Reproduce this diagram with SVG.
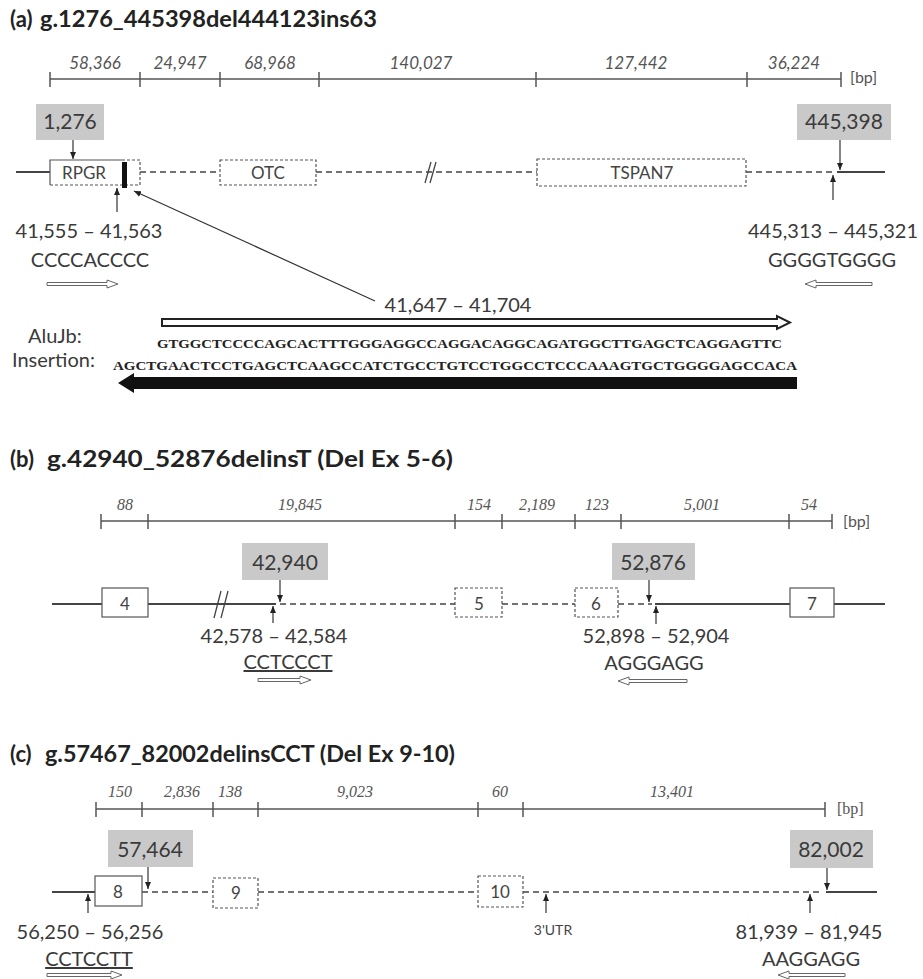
<svg xmlns="http://www.w3.org/2000/svg" width="923" height="979" viewBox="0 0 923 979">
<style>
text{font-family:Lato,"Open Sans","Liberation Sans",sans-serif;fill:#3a3a3a}
.title{font-weight:bold;font-size:22px;fill:#222}
.lbl{font-size:20px;text-anchor:middle}
.gl{font-size:21px;text-anchor:middle}
.seqlbl{font-size:20px;text-anchor:middle}
.scl{font-size:17px;font-style:italic;fill:#555;text-anchor:middle}
.scls{font-family:"Liberation Serif",serif;font-size:16px;font-style:italic;fill:#555;text-anchor:middle}
.bp{font-size:16px;fill:#555}
.bps{font-family:"Liberation Serif",serif;font-size:16px;fill:#555}
.box{font-size:17px;text-anchor:middle;fill:#444}
.seq{font-family:"Liberation Serif",serif;font-weight:bold;font-size:13px;fill:#222}
.gray{fill:#c9c9c9}
.bar{stroke:#555;stroke-width:1.5;fill:none}
.solid{stroke:#444;stroke-width:2;fill:none}
.dash{stroke:#444;stroke-width:1.6;stroke-dasharray:6 4;fill:none}
.sbox{stroke:#555;stroke-width:1.2;fill:#fff}
.dbox{stroke:#555;stroke-width:1.2;stroke-dasharray:3 2;fill:#fff}
.ptr{stroke:#333;stroke-width:1.2;fill:none;marker-end:url(#ah)}
.hol{fill:#fff;stroke:#666;stroke-width:1}
</style>
<defs>
<marker id="ah" markerWidth="8" markerHeight="8" refX="7" refY="4" orient="auto" markerUnits="userSpaceOnUse">
<path d="M0,1 L7,4 L0,7 Z" fill="#222"/>
</marker>
</defs>

<!-- ===== Panel (a) ===== -->
<g id="title-a"><text class="title" x="10" y="27">(a)</text><text class="title" x="40" y="27" textLength="337" lengthAdjust="spacingAndGlyphs">g.1276_445398del444123ins63</text></g>
<g id="scale-a">
<path class="bar" d="M50,79 H841 M50,72 V87 M140,72 V87 M220,72 V87 M319,72 V87 M536,72 V87 M747,72 V87 M841,72 V87"/>
<text class="scl" x="95" y="69">58,366</text>
<text class="scl" x="180" y="69">24,947</text>
<text class="scl" x="270" y="69">68,968</text>
<text class="scl" x="421" y="69">140,027</text>
<text class="scl" x="636" y="69">127,442</text>
<text class="scl" x="794" y="69">36,224</text>
<text class="bp" x="850" y="83">[bp]</text>
</g>
<g id="track-a">
<path class="solid" d="M16,172 H50 M837,172 H885"/>
<path class="dash" d="M140,172 H220 M316,172 H537 M746,172 H835"/>
<path stroke="#444" stroke-width="1.3" d="M425,183 L431,162 M430,183 L436,162"/>
</g>
<g id="RPGR">
<rect x="50" y="160" width="90" height="25" fill="#fff"/>
<path stroke="#555" stroke-width="1.2" fill="none" d="M125,160 H50 V185"/>
<path stroke="#555" stroke-width="1.2" fill="none" stroke-dasharray="3 2" d="M50,185 H140 V160 H125"/>
<text class="box" x="84" y="179">RPGR</text>
<rect x="122" y="162" width="5" height="26" fill="#111"/>
</g>
<g id="OTC"><rect class="dbox" x="220" y="160" width="96" height="25"/><text class="box" x="268" y="179">OTC</text></g>
<g id="TSPAN7"><rect class="dbox" x="537" y="159" width="209" height="27"/><text class="box" x="642" y="179">TSPAN7</text></g>
<g id="bp-1276"><rect class="gray" x="36" y="104" width="68" height="36"/><text class="gl" x="70" y="129">1,276</text></g>
<g id="bp-445398"><rect class="gray" x="797" y="104" width="94" height="36"/><text class="gl" x="844" y="129">445,398</text></g>
<g id="lbl-41555">
<text class="lbl" x="89" y="238">41,555 – 41,563</text>
<text class="seqlbl" x="90" y="267">CCCCACCCC</text>
<path class="hol" d="M47,282.5 H107 V280 L118,284 L107,288 V285.5 H47 Z"/>
</g>
<g id="lbl-445313">
<text class="lbl" x="833" y="238">445,313 – 445,321</text>
<text class="seqlbl" x="832" y="267">GGGGTGGGG</text>
<path class="hol" d="M872,282.5 H816 V280 L805,284 L816,288 V285.5 H872 Z"/>
</g>
<g id="insertion">
<text class="lbl" x="458" y="312">41,647 – 41,704</text>
<path fill="#fff" stroke="#222" stroke-width="2" d="M162,319 H777 V316 L790,322.5 L777,329 V326 H162 Z"/>
<text class="seqlbl" x="28" y="343" style="text-anchor:start">AluJb:</text>
<text class="seqlbl" x="12" y="367" style="text-anchor:start">Insertion:</text>
<text class="seq" x="157" y="348" textLength="625" lengthAdjust="spacingAndGlyphs">GTGGCTCCCCAGCACTTTGGGAGGCCAGGACAGGCAGATGGCTTGAGCTCAGGAGTTC</text>
<text class="seq" x="113" y="370" textLength="684" lengthAdjust="spacingAndGlyphs">AGCTGAACTCCTGAGCTCAAGCCATCTGCCTGTCCTGGCCTCCCAAAGTGCTGGGGAGCCACA</text>
<path fill="#111" d="M797,377 H134 V373 L118,383 L134,393 V389 H797 Z"/>
</g>

<!-- ===== Panel (b) ===== -->
<g id="title-b"><text class="title" x="10" y="467">(b)</text><text class="title" x="47" y="467" textLength="406" lengthAdjust="spacingAndGlyphs">g.42940_52876delinsT (Del Ex 5-6)</text></g>
<g id="scale-b">
<path class="bar" d="M101,521 H832 M101,514 V529 M148,514 V529 M455,514 V529 M502,514 V529 M575,514 V529 M621,514 V529 M789,514 V529 M832,514 V529"/>
<text class="scls" x="125" y="510">88</text>
<text class="scls" x="300" y="510">19,845</text>
<text class="scls" x="479" y="510">154</text>
<text class="scls" x="537" y="510">2,189</text>
<text class="scls" x="597" y="510">123</text>
<text class="scls" x="702" y="510">5,001</text>
<text class="scls" x="809" y="510">54</text>
<text class="bp" x="843" y="527">[bp]</text>
</g>
<g id="track-b">
<path class="solid" d="M52,604 H102 M148,604 H276 M655,604 H790 M834,604 H885"/>
<path class="dash" d="M280,604 H455 M502,604 H575 M618,604 H652"/>
<path stroke="#444" stroke-width="1.3" d="M214,618 L221,591 M221,618 L228,591"/>
</g>
<g id="exon4"><rect class="sbox" x="102" y="588" width="46" height="29"/><text class="box" x="125" y="610">4</text></g>
<g id="exon5"><rect class="dbox" x="455" y="588" width="47" height="29"/><text class="box" x="479" y="610">5</text></g>
<g id="exon6"><rect class="dbox" x="575" y="588" width="43" height="29"/><text class="box" x="596" y="610">6</text></g>
<g id="exon7"><rect class="sbox" x="790" y="588" width="44" height="29"/><text class="box" x="812" y="610">7</text></g>
<g id="bp-42940"><rect class="gray" x="242" y="543" width="86" height="37"/><text class="gl" x="285" y="570">42,940</text></g>
<g id="bp-52876"><rect class="gray" x="612" y="543" width="83" height="37"/><text class="gl" x="653" y="570">52,876</text></g>
<g id="lbl-42578">
<text class="lbl" x="274" y="643">42,578 – 42,584</text>
<text class="seqlbl" x="288" y="669" text-decoration="underline">CCTCCCT</text>
<path class="hol" d="M258,678.5 H300 V676 L311,680 L300,684 V681.5 H258 Z"/>
</g>
<g id="lbl-52898">
<text class="lbl" x="656" y="643">52,898 – 52,904</text>
<text class="seqlbl" x="654" y="670">AGGGAGG</text>
<path class="hol" d="M687,679.5 H629 V677 L618,681 L629,685 V682.5 H687 Z"/>
</g>

<!-- ===== Panel (c) ===== -->
<g id="title-c"><text class="title" x="10" y="762">(c)</text><text class="title" x="45" y="762" textLength="410" lengthAdjust="spacingAndGlyphs">g.57467_82002delinsCCT (Del Ex 9-10)</text></g>
<g id="scale-c">
<path class="bar" d="M96,809 H825 M96,802 V817 M142,802 V817 M213,802 V817 M258,802 V817 M478,802 V817 M523,802 V817 M825,802 V817"/>
<text class="scls" x="120" y="797">150</text>
<text class="scls" x="182" y="797">2,836</text>
<text class="scls" x="230" y="797">138</text>
<text class="scls" x="355" y="797">9,023</text>
<text class="scls" x="500" y="797">60</text>
<text class="scls" x="672" y="797">13,401</text>
<text class="bps" x="837" y="814">[bp]</text>
</g>
<g id="track-c">
<path class="solid" d="M52,892 H95 M826,892 H877"/>
<path class="dash" d="M142,892 H213 M258,892 H478 M523,892 H822"/>
</g>
<g id="exon8"><rect class="sbox" x="95" y="876" width="47" height="30"/><text class="box" x="118" y="898">8</text></g>
<g id="exon9"><rect class="dbox" x="213" y="878" width="45" height="30"/><text class="box" x="236" y="899">9</text></g>
<g id="exon10"><rect class="dbox" x="478" y="876" width="45" height="31"/><text class="box" x="500" y="898">10</text></g>
<g id="bp-57464"><rect class="gray" x="108" y="830" width="85" height="37"/><text class="gl" x="150" y="857">57,464</text></g>
<g id="bp-82002"><rect class="gray" x="790" y="830" width="83" height="38"/><text class="gl" x="831" y="857">82,002</text></g>
<g id="lbl-56250">
<text class="lbl" x="90" y="939">56,250 – 56,256</text>
<text class="seqlbl" x="89" y="966" text-decoration="underline">CCTCCTT</text>
<path class="hol" d="M47,973.5 H111 V971 L122,975 L111,979 V976.5 H47 Z"/>
</g>
<g id="lbl-3utr"><text class="box" x="553" y="935" style="font-size:14px">3'UTR</text></g>
<g id="lbl-81939">
<text class="lbl" x="809" y="939">81,939 – 81,945</text>
<text class="seqlbl" x="811" y="966">AAGGAGG</text>
<path class="hol" d="M845,973.5 H789 V971 L778,975 L789,979 V976.5 H845 Z"/>
</g>

<!-- ===== Connectors ===== -->
<g id="connectors">
<line class="ptr" x1="73" y1="140" x2="73" y2="159"/>
<line class="ptr" x1="840" y1="140" x2="840" y2="170"/>
<line class="ptr" x1="833" y1="200" x2="833" y2="175"/>
<line class="ptr" x1="117" y1="212" x2="117" y2="188"/>
<line class="ptr" x1="375" y1="301" x2="134" y2="191"/>
<line class="ptr" x1="280" y1="580" x2="280" y2="602"/>
<line class="ptr" x1="273" y1="623" x2="273" y2="606"/>
<line class="ptr" x1="649" y1="580" x2="649" y2="602"/>
<line class="ptr" x1="656" y1="624" x2="656" y2="606"/>
<line class="ptr" x1="148" y1="867" x2="148" y2="889"/>
<line class="ptr" x1="88" y1="913" x2="88" y2="894"/>
<line class="ptr" x1="546" y1="913" x2="546" y2="894"/>
<line class="ptr" x1="827" y1="868" x2="827" y2="890"/>
<line class="ptr" x1="810" y1="913" x2="810" y2="894"/>
</g>
</svg>
